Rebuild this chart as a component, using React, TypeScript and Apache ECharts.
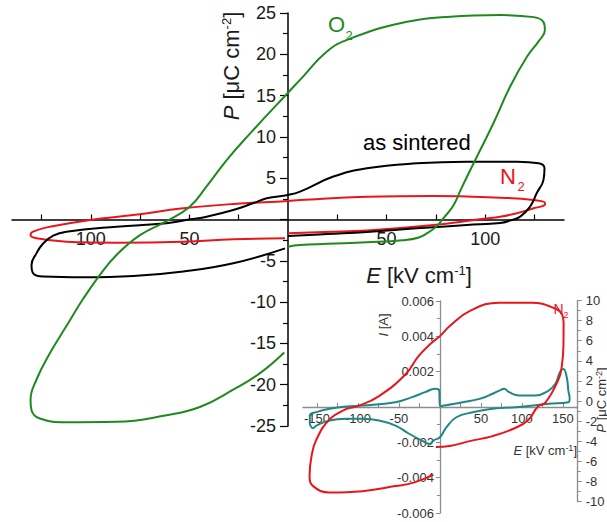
import React, { useEffect, useRef } from "react";
import * as echarts from "echarts";

const FONT = '"Liberation Sans", Arial, Helvetica, sans-serif';

const GREEN = "#1e8a1e";
const RED = "#e8161c";
const BLACK = "#000000";
const TEAL = "#1f8884";

// Main panel: P–E hysteresis loops, [E in kV/cm, P in µC/cm²]
const o2Loop: [number, number][] = [
  [0, -3.3], [6.1, -3.1], [20, -2.95], [40, -2.75], [58, -2.5], [66, -2.2],
  [71, -1.6], [75.5, -0.8], [78.8, 0.14], [83.9, 1.7], [88, 3.8], [95.8, 7.6],
  [104.2, 11.65], [112.7, 16.1], [121.2, 19.7], [127.2, 21.6], [130.3, 22.9],
  [129.6, 23.9], [124.6, 24.5], [107.6, 24.75], [82.2, 24.55], [56.9, 23.75],
  [31.5, 21.9], [19.6, 20.3], [6.1, 16.9], [0, 15.35], [-19.3, 10.4],
  [-31.1, 7.2], [-41.3, 4.0], [-50, 1.5], [-61.6, -0.2], [-75.1, -1.9],
  [-87, -4.3], [-95.4, -6.7], [-103.9, -9.6], [-112.4, -12.9], [-120.8, -16.2],
  [-127.6, -19.4], [-130.6, -21.85], [-130.1, -23.1], [-125.9, -24.1],
  [-112.4, -24.55], [-87, -24.5], [-61.6, -23.7], [-44.7, -22.7],
  [-27.8, -20.6], [-14.2, -18.6], [-1.9, -16.1],
];

const sinteredLoop: [number, number][] = [
  [0, -2.0], [20, -1.75], [40, -1.5], [65.3, -1.07], [90.7, -0.67],
  [107.6, -0.42], [113, -0.1], [117.8, 0.34], [122.8, 1.55], [126.2, 3.2],
  [129.6, 4.8], [130.1, 6.2], [127.1, 6.8], [116.1, 7.0], [90.7, 7.0],
  [65.3, 6.8], [40, 6.2], [23, 5.2], [6.1, 3.37], [0, 2.97], [-10.8, 2.57],
  [-17.8, 1.96], [-27.8, 1.15], [-41.3, 0.34], [-49.5, 0.02], [-61.6, -0.46],
  [-87, -0.87], [-112.4, -1.47], [-119.1, -1.95], [-124.2, -2.9],
  [-127.6, -4.1], [-130.1, -5.5], [-129.3, -6.5], [-124.2, -6.9],
  [-103.9, -7.0], [-78.5, -6.85], [-53.1, -6.3], [-27.8, -5.3], [-1.5, -3.5],
];

const n2Loop: [number, number][] = [
  [0, -1.67], [18.6, -1.5], [40, -1.33], [73.8, -0.67], [99.1, 0.1],
  [107.6, 0.34], [116.1, 0.75], [124.6, 1.36], [130.2, 1.75], [130.4, 2.0],
  [124.6, 2.36], [107.6, 2.64], [73.8, 2.85], [40, 2.76], [6.1, 2.36],
  [0, 2.24], [-27.8, 1.88], [-53.1, 1.35], [-78.5, 0.54], [-100.5, -0.06],
  [-120.8, -0.87], [-129.3, -1.47], [-130.6, -1.88], [-127.6, -2.28],
  [-112.4, -2.69], [-87, -2.8], [-53.1, -2.69], [-27.8, -2.4], [-1.5, -2.28],
];

// Inset: N2-annealed sample, P–E loop [E in kV/cm, P in µC/cm²]
const insetN2Loop: [number, number][] = [
  [-5, -4.57], [12, -4.47], [36.1, -3.98], [64.2, -3.48], [92.4, -2.65],
  [108.4, -1.82], [119.5, -0.53], [128.5, -0.16], [144.6, 2.16],
  [148.6, 3.48], [150.6, 5.47], [150.8, 7.8], [149, 8.6], [140.6, 9.2],
  [112, 9.78], [72.3, 9.78], [36.1, 8.95], [12, 7.46], [0, 6.46],
  [-10, 5.8], [-26.1, 4.47], [-42.2, 2.65], [-74.3, 0.5], [-100, -0.5],
  [-114.5, -0.8], [-134.6, -1.82], [-150.6, -3.81], [-156.6, -5.47],
  [-159, -7.45], [-154.6, -8.45], [-134.9, -9.08], [-94.3, -8.95],
  [-54.2, -8.45], [-32, -8.1], [-8, -7.3],
];

// Inset: switching current, [E in kV/cm, I in A]
const insetCurrent: [number, number][] = [
  [-158.7, -0.00095], [-158.7, -0.00048], [-150.6, -0.00029],
  [-134.6, -0.0001], [-114.5, 0.00003], [-94.3, 0.00008], [-54.2, 0.00027],
  [-34.1, 0.00056], [-18.1, 0.00084], [-6, 0.00103], [-1, 0.00095],
  [0, 0.00005], [27.7, 0.00027], [48.2, 0.00046], [64.2, 0.00075],
  [72.3, 0.00093], [78.3, 0.00103], [84.3, 0.00084], [96.4, 0.00065],
  [116.5, 0.00065], [132.5, 0.00093], [140.6, 0.0013], [146.6, 0.002],
  [150.6, 0.00215], [154.6, 0.0017], [156.6, 0.00093], [158.2, 0.00046],
  [156.6, 0.00027], [132.5, 0.00018], [92.4, -0.00001], [64.2, -0.0001],
  [40, -0.0003], [20, -0.00058], [8, -0.00114], [0, -0.00171],
  [-8, -0.0019], [-12, -0.0021], [-22, -0.0019], [-38.2, -0.0015],
  [-54.2, -0.00105], [-74.3, -0.00076], [-94.3, -0.00067],
  [-114.5, -0.00067], [-134.6, -0.00076], [-150.6, -0.00105],
  [-155, -0.0012], [-158.7, -0.00095],
];

// Axis ranges, ticks and labels
const mainXRange = [-140, 140];
const mainYRange = [-25, 25];
const insetXRange = [-167, 168];
const insetIRange = [-0.006, 0.006];
const insetPRange = [-10, 10];
const mainXTicks = [-125, -100, -75, -50, -25, 25, 50, 75, 100, 125];
const mainXLabels = [-100, -50, 50, 100];
const insetXTicks = [-150, -125, -100, -75, -50, -25, 25, 50, 75, 100, 125, 150];
const insetXLabels = [-150, -100, -50, 50, 100, 150];

// Plot rectangles (px)
const MAIN = { left: 12, top: 13, width: 552, height: 413 };
const INSET = { left: 303, top: 301, width: 274.7, height: 212 };
const INSET_P = { left: 303, top: 300.5, width: 274.7, height: 201.2 };

const W = 607;
const H = 522;

function gridOf(r: { left: number; top: number; width: number; height: number }) {
  return {
    left: r.left,
    top: r.top,
    width: r.width,
    height: r.height,
    containLabel: false,
    outerBoundsMode: "none",
  };
}

// Offsets that bring an edge axis onto the other axis' zero
function yOffsetToZero(r: { width: number }, range: number[]) {
  return -(r.width * (0 - range[0])) / (range[1] - range[0]);
}
function xOffsetToZero(r: { height: number }, range: number[]) {
  return -(r.height * (0 - range[0])) / (range[1] - range[0]);
}

function text(
  x: number,
  y: number,
  str: string,
  size: number,
  fill: string,
  opts: { rotation?: number; align?: string; supSize?: number } = {}
) {
  const supSize = opts.supSize || Math.round(size * 0.6);
  return {
    type: "text",
    x,
    y,
    rotation: opts.rotation || 0,
    z: 100,
    style: {
      text: str,
      fill,
      fontSize: size,
      fontFamily: FONT,
      align: opts.align || "center",
      verticalAlign: "middle",
      rich: {
        i: { fontSize: size, fontFamily: FONT, fill, fontStyle: "italic" },
        s: { fontSize: supSize, fontFamily: FONT, fill, verticalAlign: "top" },
      },
    },
  };
}

function makeLine(data: [number, number][], color: string, xi: number, yi: number) {
  return {
    type: "line",
    data,
    xAxisIndex: xi,
    yAxisIndex: yi,
    showSymbol: false,
    symbol: "none",
    smooth: 0.45,
    clip: false,
    lineStyle: { color, width: 2 },
  };
}

export default function App() {
  const ref = useRef<HTMLDivElement>(null);

  useEffect(() => {
    if (!ref.current) return;
    const chart = echarts.init(ref.current, undefined, { renderer: "svg" });

    const mainAxisLine = { color: "#000", width: 1.5 };
    const insetAxisLine = { color: "#8c8c8c", width: 1.3 };
    const mainLabel = { fontSize: 18, color: "#1a1a1a", fontFamily: FONT };
    const insetLabel = { fontSize: 13, color: "#333", fontFamily: FONT };

    const option: any = {
      animation: false,
      backgroundColor: "#ffffff",
      grid: [gridOf(MAIN), gridOf(INSET), gridOf(INSET_P)],
      xAxis: [
        {
          type: "value",
          gridIndex: 0,
          min: mainXRange[0],
          max: mainXRange[1],
          position: "bottom",
          offset: xOffsetToZero(MAIN, mainYRange),
          axisLine: { onZero: false, lineStyle: mainAxisLine },
          axisTick: {
            inside: true,
            length: 5,
            customValues: mainXTicks,
            lineStyle: { color: "#000", width: 1.2 },
          },
          axisLabel: {
            ...mainLabel,
            customValues: mainXLabels,
            margin: 10,
            formatter: (v: number) => String(Math.abs(v)),
          },
          splitLine: { show: false },
        },
        {
          type: "value",
          gridIndex: 1,
          min: insetXRange[0],
          max: insetXRange[1],
          position: "bottom",
          offset: xOffsetToZero(INSET, insetIRange),
          axisLine: { onZero: false, lineStyle: insetAxisLine },
          axisTick: {
            inside: true,
            length: 4,
            customValues: insetXTicks,
            lineStyle: { color: "#8c8c8c", width: 1 },
          },
          axisLabel: {
            ...insetLabel,
            customValues: insetXLabels,
            margin: 5,
          },
          splitLine: { show: false },
        },
        {
          type: "value",
          gridIndex: 2,
          min: insetXRange[0],
          max: insetXRange[1],
          show: false,
        },
      ],
      yAxis: [
        {
          type: "value",
          gridIndex: 0,
          min: mainYRange[0],
          max: mainYRange[1],
          interval: 5,
          position: "left",
          offset: yOffsetToZero(MAIN, mainXRange),
          axisLine: { onZero: false, lineStyle: mainAxisLine },
          axisTick: { length: 8, lineStyle: { color: "#000", width: 1.2 } },
          minorTick: {
            show: true,
            splitNumber: 2,
            length: 5,
            lineStyle: { color: "#000", width: 1.2 },
          },
          axisLabel: {
            ...mainLabel,
            margin: 12,
            formatter: (v: number) => (v === 0 ? "" : String(v)),
          },
          splitLine: { show: false },
          minorSplitLine: { show: false },
        },
        {
          type: "value",
          gridIndex: 1,
          min: insetIRange[0],
          max: insetIRange[1],
          interval: 0.002,
          position: "left",
          offset: yOffsetToZero(INSET, insetXRange),
          axisLine: { onZero: false, lineStyle: insetAxisLine },
          axisTick: { length: 4, lineStyle: { color: "#8c8c8c", width: 1 } },
          minorTick: {
            show: true,
            splitNumber: 2,
            length: 3,
            lineStyle: { color: "#8c8c8c", width: 1 },
          },
          axisLabel: {
            ...insetLabel,
            margin: 6,
            formatter: (v: number) => (Math.abs(v) < 1e-9 ? "" : v.toFixed(3)),
          },
          splitLine: { show: false },
          minorSplitLine: { show: false },
        },
        {
          type: "value",
          gridIndex: 2,
          position: "right",
          min: insetPRange[0],
          max: insetPRange[1],
          interval: 2,
          axisLine: { show: true, onZero: false, lineStyle: insetAxisLine },
          axisTick: { show: true, length: 4, lineStyle: { color: "#8c8c8c", width: 1 } },
          minorTick: {
            show: true,
            splitNumber: 2,
            length: 3,
            lineStyle: { color: "#8c8c8c", width: 1 },
          },
          axisLabel: { ...insetLabel, margin: 8 },
          splitLine: { show: false },
          minorSplitLine: { show: false },
        },
      ],
      series: [
        makeLine(n2Loop, RED, 0, 0),
        makeLine(sinteredLoop, BLACK, 0, 0),
        makeLine(o2Loop, GREEN, 0, 0),
        makeLine(insetCurrent, TEAL, 1, 1),
        makeLine(insetN2Loop, RED, 2, 2),
      ],
      graphic: [
        // main axis titles
        text(231, 66, "{i|P} [μC cm{s|-2}]", 22, "#1a1a1a", {
          rotation: Math.PI / 2,
          supSize: 13,
        }),
        text(419, 275, "{i|E} [kV cm{s|-1}]", 22, "#1a1a1a", { supSize: 13 }),
        // loop annotations
        text(328, 24.5, "O", 22, GREEN, { align: "left" }),
        text(345.5, 35, "2", 13, GREEN, { align: "left" }),
        text(363, 142, "as sintered", 22, "#000", { align: "left" }),
        text(500, 176.5, "N", 22, RED, { align: "left" }),
        text(517.5, 186, "2", 13, RED, { align: "left" }),
        // inset titles
        text(383, 325, "{i|I} [A]", 13, "#333", { rotation: Math.PI / 2, supSize: 9 }),
        text(577, 450, "{i|E} [kV cm{s|-1}]", 13, "#333", { align: "right", supSize: 9 }),
        text(601, 400, "{i|P} [μC cm{s|-2}]", 13, "#333", {
          rotation: Math.PI / 2,
          supSize: 9,
        }),
        text(553.5, 308.5, "N", 14, RED, { align: "left" }),
        text(563.5, 314.5, "2", 9, RED, { align: "left" }),
      ],
    };

    chart.setOption(option);
    return () => chart.dispose();
  }, []);

  return (
    <div
      ref={ref}
      style={{ position: "absolute", left: 0, top: 0, width: W, height: H, background: "#fff" }}
    />
  );
}
